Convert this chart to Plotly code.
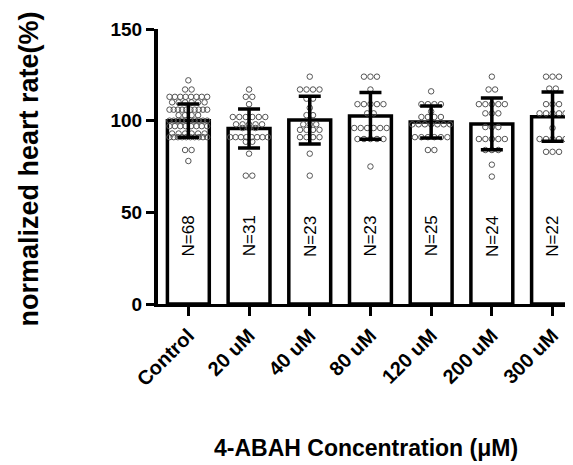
import plotly.graph_objects as go

categories = ["Control", "20 uM", "40 uM", "80 uM", "120 uM", "200 uM", "300 uM"]
n_labels = ["N=68", "N=31", "N=23", "N=23", "N=25", "N=24", "N=22"]
means = [100.0, 95.7, 100.3, 102.6, 99.3, 98.2, 102.2]
sds = [9.1, 10.6, 13.0, 12.8, 8.7, 14.1, 13.4]

control_vals = [122,
                117, 117,
                113, 113, 113, 113, 113, 113, 113, 113,
                110, 110, 110, 110, 110, 110,
                106, 106, 106, 106, 106, 106, 106, 106, 106, 106,
                103, 103, 103, 103,
                100, 100, 100, 100, 100, 100, 100, 100, 100, 100,
                97, 97, 97, 97, 97, 97, 97, 97,
                93, 93, 93, 93, 93, 93,
                91, 91, 91, 91, 91, 91, 91, 91, 91, 91,
                84, 84,
                78]
uM20_vals = [117, 113, 113, 109, 102, 102, 102, 102, 102, 102,
             98, 98, 98, 98, 98, 96, 96, 96,
             91, 91, 91, 91, 91, 91, 91, 91, 88.5, 88.5, 82, 70, 70]
uM40_vals = [124, 117, 117, 117, 117, 112, 112, 107, 103, 103,
             98, 98, 98, 95, 95, 95, 95, 91, 91, 91, 91, 82, 70]
uM80_vals = [124, 124, 124, 117, 109, 109, 109, 109, 109, 104, 104,
             96, 96, 96, 96, 96, 96, 90, 90, 90, 90, 90, 75]
uM120_vals = [116, 109, 109, 109, 109, 105, 102, 102, 102, 102,
              98, 98, 98, 98, 98, 98, 98, 91, 91, 91, 91, 91, 91, 84, 84]
uM200_vals = [124, 117, 117, 109, 109, 109, 109, 109, 104, 104, 104,
              96.5, 96.5, 96.5, 90, 90, 90, 90, 90, 84, 84, 84, 76, 69.5]
uM300_vals = [124, 124, 124, 117.5, 117.5, 109, 109, 109, 104, 104, 104, 104, 104,
              96, 90, 90, 90, 90, 90, 83, 83, 83]

groups = [control_vals, uM20_vals, uM40_vals, uM80_vals, uM120_vals, uM200_vals, uM300_vals]

FONT = "Liberation Sans, Arial, sans-serif"


def swarm_x(center, vals, spacing=0.107, maxw=0.62):
    """Deterministic row-based beeswarm: points of equal value side by side."""
    xs, ys = [], []
    uniq = []
    for v in vals:
        if v not in uniq:
            uniq.append(v)
    for v in uniq:
        n = vals.count(v)
        sp = spacing if n <= 1 else min(spacing, maxw / (n - 1))
        for i in range(n):
            xs.append(center + (i - (n - 1) / 2) * sp)
            ys.append(v)
    return xs, ys


fig = go.Figure()

fig.add_trace(go.Bar(
    x=list(range(len(categories))), y=means, width=0.69,
    marker=dict(color="white", line=dict(color="black", width=3.5)),
    showlegend=False, hoverinfo="skip"))

for i, vals in enumerate(groups):
    xs, ys = swarm_x(i, vals)
    fig.add_trace(go.Scatter(
        x=xs, y=ys, mode="markers",
        marker=dict(symbol="circle-open", size=5.5, color="#555555", line=dict(width=1)),
        showlegend=False))

fig.add_trace(go.Scatter(
    x=list(range(len(categories))), y=means, mode="markers",
    marker=dict(size=1, color="rgba(0,0,0,0)"),
    error_y=dict(type="data", array=sds, visible=True, color="black", thickness=3.5, width=11),
    showlegend=False))

annotations = []
for i, t in enumerate(n_labels):
    annotations.append(dict(x=i, y=37, xref="x", yref="y", text=t, textangle=-90,
                            showarrow=False, font=dict(family=FONT, size=17, color="black")))
annotations.append(dict(x=0.5, y=-0.525, xref="paper", yref="paper",
                        text="4-ABAH Concentration (\u03bcM)", showarrow=False,
                        xanchor="center", yanchor="middle",
                        font=dict(family=FONT, size=23, color="black", weight="bold")))
annotations.append(dict(x=-0.31, y=0.49, xref="paper", yref="paper",
                        text="normalized heart rate(%)", showarrow=False, textangle=-90,
                        xanchor="center", yanchor="middle",
                        font=dict(family=FONT, size=27, color="black", weight="bold")))

fig.update_layout(
    width=565, height=457,
    margin=dict(l=150, r=0, t=21, b=161),
    paper_bgcolor="white", plot_bgcolor="white",
    annotations=annotations,
    xaxis=dict(
        range=[-0.5, 6.337], tickmode="array", tickvals=list(range(len(categories))),
        ticktext=categories, tickangle=-45, showgrid=False, zeroline=False,
        showline=True, linecolor="black", linewidth=3,
        ticks="outside", ticklen=9, tickwidth=3, tickcolor="black",
        tickfont=dict(family=FONT, size=20, color="black", weight="bold")),
    yaxis=dict(
        range=[0, 150], tickvals=[0, 50, 100, 150], showgrid=False, zeroline=False,
        showline=True, linecolor="black", linewidth=4,
        ticks="outside", ticklen=8, tickwidth=3, tickcolor="black",
        tickfont=dict(family=FONT, size=19, color="black", weight="bold")),
)

fig.write_html("out.html")
